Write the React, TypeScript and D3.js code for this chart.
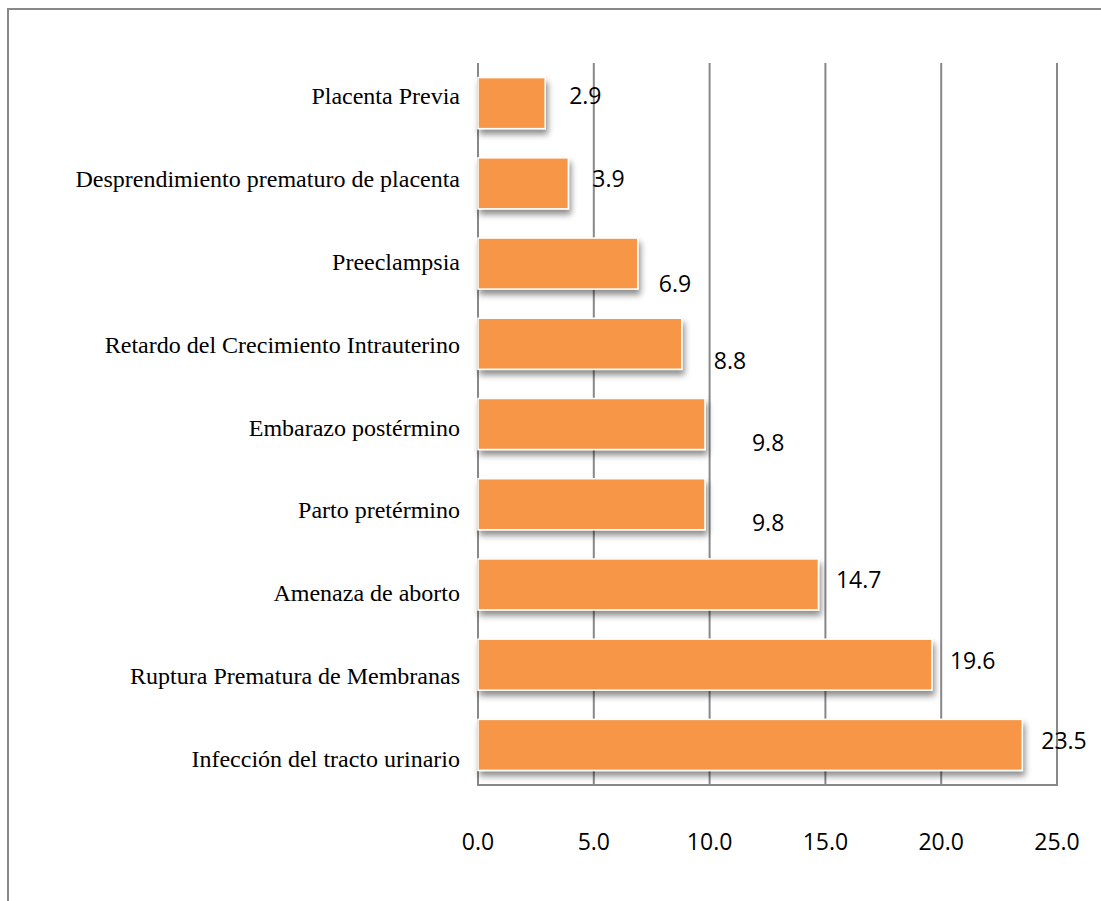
import React from "react";
import * as d3 from "d3";

const categories = [
  "Placenta Previa",
  "Desprendimiento prematuro de placenta",
  "Preeclampsia",
  "Retardo del Crecimiento Intrauterino",
  "Embarazo postérmino",
  "Parto pretérmino",
  "Amenaza de aborto",
  "Ruptura Prematura de Membranas",
  "Infección del tracto urinario",
];
const values = [2.9, 3.9, 6.9, 8.8, 9.8, 9.8, 14.7, 19.6, 23.5];
const xTicks = [0, 5, 10, 15, 20, 25];

// label nudges (layout only): [dx from bar end, dy from bar centre]
const labelDx = [24, 24, 21, 32, 47, 47, 17.5, 18, 19];
const labelDy = [1, 4, 28, 25, 27, 27, 4, 4, 4];

const W = 1101;
const H = 901;
const plot = { left: 478, right: 1057, top: 63, bottom: 785 };

export default function App() {
  const x = d3.scaleLinear().domain([0, 25]).range([plot.left, plot.right]);
  const y = d3
    .scaleBand<string>()
    .domain(categories)
    .range([plot.top, plot.bottom])
    .paddingInner(0.364)
    .paddingOuter(0.182);
  const yLab = d3.scalePoint<string>().domain(categories).range([104, 767]);
  const fmt = d3.format(".1f");

  return (
    <div style={{ position: "absolute", left: 0, top: 0 }}>
      <svg width={W} height={H} style={{ display: "block", background: "#fff" }}>
        <defs>
          <filter id="sh" x="-10%" y="-30%" width="130%" height="180%">
            <feDropShadow dx="2" dy="5" stdDeviation="3" floodColor="#000" floodOpacity="0.45" />
          </filter>
        </defs>
        <rect x={8} y={9} width={W + 20} height={H + 20} fill="none" stroke="#888" strokeWidth={2} />
        {xTicks.map((t) => (
          <line key={t} x1={x(t)} x2={x(t)} y1={plot.top} y2={plot.bottom} stroke="#888" strokeWidth={2} />
        ))}
        <line x1={plot.left - 1} x2={plot.right + 1} y1={plot.bottom} y2={plot.bottom} stroke="#888" strokeWidth={2} />
        {categories.map((c, i) => (
          <rect
            key={c}
            x={x(0)}
            y={y(c)!}
            width={x(values[i]) - x(0)}
            height={y.bandwidth()}
            fill="#F79646"
            stroke="#fff"
            strokeWidth={1.5}
            filter="url(#sh)"
          />
        ))}
        {categories.map((c) => (
          <text
            key={c}
            x={460}
            y={yLab(c)!}
            textAnchor="end"
            fontFamily="'Liberation Serif', 'Times New Roman', serif"
            fontSize={24}
            fill="#000"
          >
            {c}
          </text>
        ))}
        {categories.map((c, i) => (
          <text
            key={c}
            x={x(values[i]) + labelDx[i]}
            y={y(c)! + y.bandwidth() / 2 + labelDy[i]}
            fontFamily="'Open Sans', sans-serif"
            fontSize={23}
            fill="#000"
          >
            {fmt(values[i])}
          </text>
        ))}
        {xTicks.map((t) => (
          <text
            key={t}
            x={x(t)}
            y={850}
            textAnchor="middle"
            fontFamily="'Open Sans', sans-serif"
            fontSize={23}
            fill="#000"
          >
            {fmt(t)}
          </text>
        ))}
      </svg>
    </div>
  );
}
